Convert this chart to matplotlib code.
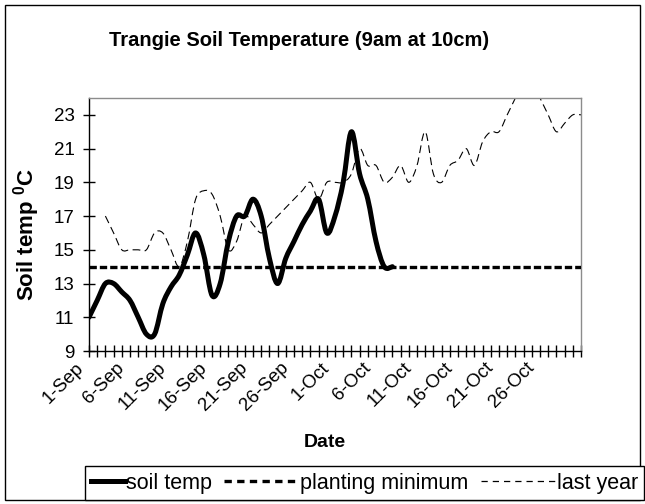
"""
Trangie soil temperature (9am at 10cm) - Excel style line chart.
"""

import numpy as np
import pandas as pd
import matplotlib
matplotlib.use("Agg")
import matplotlib.pyplot as plt
from matplotlib.path import Path
from matplotlib.patches import PathPatch, Rectangle
from matplotlib.lines import Line2D
from matplotlib.legend_handler import HandlerLine2D
from matplotlib.transforms import ScaledTranslation

plt.rcParams['font.family'] = ['Liberation Sans', 'DejaVu Sans']
plt.rcParams['mathtext.fontset'] = 'custom'
plt.rcParams['mathtext.rm'] = 'Liberation Sans'
plt.rcParams['mathtext.bf'] = 'Liberation Sans:bold'

# ---- data (daily, starting 1-Sep) ----
dates = pd.date_range('2000-09-01', '2000-10-31', freq='D')

soil_temp = [11, 12, 13, 13, 12.5, 12, 11, 10, 10, 11.8,
             12.8, 13.5, 14.7, 16, 14.7, 12.3, 13, 15.5, 17, 17,
             18, 17, 14.5, 13, 14.5, 15.5, 16.5, 17.3, 18, 16,
             17, 19, 22, 19.5, 18, 15.5, 14, 14]

last_year = [None, None, 17, 16, 15, 15, 15, 15, 16, 16,
             15, 14, 15.5, 18, 18.5, 18.3, 17, 15, 15.5, 17,
             16.5, 16, 16.5, 17, 17.5, 18, 18.5, 19, 18, 19,
             19, 19, 19.5, 21, 20, 20, 19, 19.3, 20, 19,
             20, 22, 19.5, 19, 20, 20.3, 21, 20, 21.4, 22,
             22, 23, 24, 25, 25, 24, 23, 22, 22.5, 23, 23]

planting_min = [14] * len(dates)

y_ticks = [9, 11, 13, 15, 17, 19, 21, 23]


def smooth_path(x, y):
    """Excel-like smoothed line (Catmull-Rom bezier) through the points."""
    pts = np.column_stack([x, y]).astype(float)
    n = len(pts)
    verts = [pts[0]]
    codes = [Path.MOVETO]
    for i in range(n - 1):
        p0 = pts[max(i - 1, 0)]
        p1 = pts[i]
        p2 = pts[i + 1]
        p3 = pts[min(i + 2, n - 1)]
        verts += [p1 + (p2 - p0) / 6, p2 - (p3 - p1) / 6, p2]
        codes += [Path.CURVE4] * 3
    return Path(verts, codes)


class LongHandle(HandlerLine2D):
    """Legend handle that reaches further to the left."""
    def __init__(self, extra, **kw):
        super().__init__(**kw)
        self.extra = extra

    def create_artists(self, legend, orig_handle, xdescent, ydescent,
                       width, height, fontsize, trans):
        arts = super().create_artists(legend, orig_handle, xdescent, ydescent,
                                      width + self.extra, height, fontsize, trans)
        for a in arts:
            a.set_xdata(np.asarray(a.get_xdata()) - self.extra)
        return arts


W, H = 645, 504
fig = plt.figure(figsize=(W / 100, H / 100), dpi=100)
ax = fig.add_axes([89 / W, 1 - 351 / H, (581 - 89) / W, (351 - 98) / H])

days = np.arange(len(dates))

# last year (thin dashed)
ly = np.array([np.nan if v is None else v for v in last_year], dtype=float)
ok = ~np.isnan(ly)
ax.add_patch(PathPatch(smooth_path(days[ok], ly[ok]), fill=False,
                       lw=0.8, ls=(0, (7, 4)), edgecolor='black', zorder=2))

# planting minimum
ax.plot(days, planting_min, color='black', lw=2.4, ls=(0, (2.2, 0.9)),
        dash_capstyle='butt', zorder=3)

# soil temp (thick)
st = np.array(soil_temp, dtype=float)
ax.add_patch(PathPatch(smooth_path(days[:len(st)], st), fill=False,
                       lw=3.6, edgecolor='black', capstyle='round',
                       joinstyle='round', zorder=4))

ax.set_xlim(0, len(dates) - 1)
ax.set_ylim(9, 24)
ax.set_yticks(y_ticks)
ax.set_xticks(days)
ax.set_xticklabels([f"{d.day}-{d.strftime('%b')}" if i % 5 == 0 and i < 60 else ''
                    for i, d in enumerate(dates)])
ax.tick_params(axis='both', direction='inout', length=9, width=1,
               color='black', labelsize=13.5)
ax.tick_params(axis='y', pad=6)
ax.tick_params(axis='x', pad=1.5)
for lbl in ax.get_xticklabels():
    lbl.set_rotation(45)
    lbl.set_ha('right')
    lbl.set_va('top')
    lbl.set_rotation_mode('anchor')
    lbl.set_transform(lbl.get_transform() +
                      ScaledTranslation(-14 / 100, 0, fig.dpi_scale_trans))

for side in ['left', 'bottom']:
    ax.spines[side].set_color('black')
    ax.spines[side].set_linewidth(1)
for side in ['top', 'right']:
    ax.spines[side].set_color('#8c8c8c')
    ax.spines[side].set_linewidth(1)

ax.set_ylabel('Soil temp $^{\\mathbf{0}}$C', fontsize=16, fontweight='bold')
ax.yaxis.set_label_coords(-0.095, 0.46)
ax.set_xlabel('Date', fontsize=14, fontweight='bold')
ax.xaxis.set_label_coords(0.48, -0.33)

fig.text(299 / W, 1 - 41 / H, 'Trangie Soil Temperature (9am at 10cm)',
         ha='center', va='center', fontsize=14.5, fontweight='bold')

# chart frame
fig.patches.append(Rectangle((5 / W, 4 / H), 635 / W, 495 / H, fill=False,
                             edgecolor='black', lw=1,
                             transform=fig.transFigure, figure=fig))

# legend
h_soil = Line2D([], [], color='black', lw=3.6)
h_plant = Line2D([], [], color='black', lw=2.4, ls=(0, (2.2, 1.6)))
h_last = Line2D([], [], color='black', lw=0.9, ls=(0, (5, 4)))
fs = 15.5
leg = fig.legend([h_soil, h_plant, h_last],
                 ['soil temp', 'planting minimum', 'last year'],
                 loc='lower left', bbox_to_anchor=(85 / W, 4 / H),
                 bbox_transform=fig.transFigure, ncol=3, fontsize=fs,
                 frameon=True, fancybox=False, edgecolor='black',
                 framealpha=1, borderpad=0.3, borderaxespad=0,
                 handlelength=1.55, handletextpad=0.05, columnspacing=2.5,
                 handler_map={h_plant: LongHandle(30), h_last: LongHandle(30)})
leg.get_frame().set_linewidth(1)

fig.savefig('out.png', dpi=100)
